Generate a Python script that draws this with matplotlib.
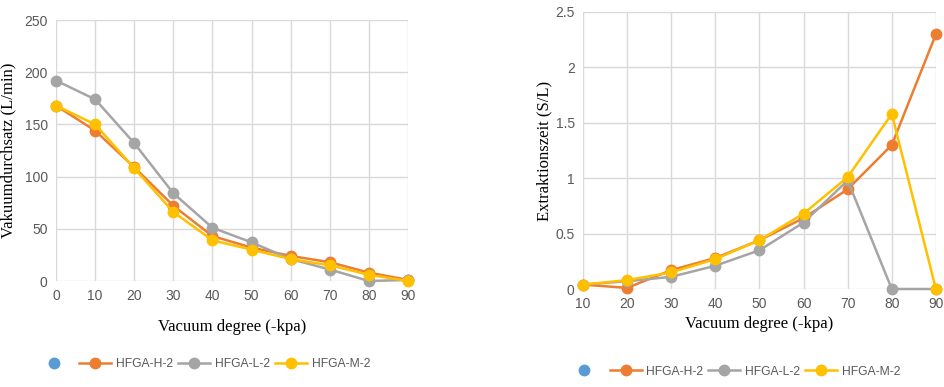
import matplotlib.pyplot as plt
from matplotlib.lines import Line2D

# data
vac_left = [0, 10, 20, 30, 40, 50, 60, 70, 80, 90]
flow_h = [168, 144, 109, 72, 43, 32, 24, 18, 8, 1]
flow_l = [192, 174, 132, 84, 51, 37, 21, 11, 0, 1]
flow_m = [168, 150, 108, 66, 39, 30, 21, 15, 6, 0]

vac_right = [10, 20, 30, 40, 50, 60, 70, 80, 90]
time_h = [0.04, 0.01, 0.17, 0.28, 0.44, 0.64, 0.90, 1.30, 2.30]
time_l = [0.04, 0.07, 0.11, 0.21, 0.35, 0.60, 0.98, 0.00, 0.00]
time_m = [0.04, 0.08, 0.15, 0.27, 0.44, 0.68, 1.01, 1.58, 0.00]

names = ["HFGA-H-2", "HFGA-L-2", "HFGA-M-2"]
colors = ["#ED7D31", "#A5A5A5", "#FFC000"]
blue = "#5B9BD5"

tick_font = "Liberation Sans"
label_font = "Liberation Serif"

fig = plt.figure(figsize=(9.45, 3.87), dpi=100)
ax1 = fig.add_axes([0.0593, 0.2739, 0.3725, 0.6744])
ax2 = fig.add_axes([0.6169, 0.2532, 0.3735, 0.7158])


def style(ax):
    for s in ax.spines.values():
        s.set_visible(False)
    ax.grid(True, color="#D9D9D9", linewidth=1.0)
    ax.set_axisbelow(True)
    ax.tick_params(length=0, labelsize=10, labelcolor="#595959", pad=6)
    for lab in ax.get_xticklabels() + ax.get_yticklabels():
        lab.set_family(tick_font)


for ys, c in zip([flow_h, flow_l, flow_m], colors):
    ax1.plot(vac_left, ys, color=c, lw=1.8, marker="o", ms=7.5, clip_on=False)
ax1.set_xlim(0, 90)
ax1.set_ylim(0, 250)
ax1.set_xticks(vac_left)
ax1.set_yticks([0, 50, 100, 150, 200, 250])
style(ax1)
ax1.set_xlabel("Vacuum degree (-kpa)", family=label_font, fontsize=12, labelpad=11)
ax1.set_ylabel("Vakuumdurchsatz (L/min)", family=label_font, fontsize=12, labelpad=6)

for ys, c in zip([time_h, time_l, time_m], colors):
    ax2.plot(vac_right, ys, color=c, lw=1.8, marker="o", ms=7.5, clip_on=False)
ax2.set_xlim(10, 90)
ax2.set_ylim(0, 2.5)
ax2.set_xticks(vac_right)
ax2.set_yticks([0, 0.5, 1, 1.5, 2, 2.5])
ax2.set_yticklabels(["0", "0.5", "1", "1.5", "2", "2.5"])
style(ax2)
ax2.set_xlabel("Vacuum degree (-kpa)", family=label_font, fontsize=12, labelpad=3)
ax2.set_ylabel("Extraktionszeit (S/L)", family=label_font, fontsize=12, labelpad=2)

handles = [Line2D([], [], color=blue, marker="o", ms=7.5, lw=0, label="")]
for n, c in zip(names, colors):
    handles.append(Line2D([], [], color=c, marker="o", ms=7.5, lw=1.8, label=n))

for cx, cy in [(0.216, 0.06), (0.777, 0.04)]:
    leg = fig.legend(handles=handles, loc="center", bbox_to_anchor=(cx, cy),
                     ncol=4, frameon=False, handlelength=2.65, columnspacing=0.4,
                     handletextpad=0.4, prop={"family": tick_font, "size": 8.7})
    for t in leg.get_texts():
        t.set_color("#595959")

fig.savefig("out.png", dpi=100)
